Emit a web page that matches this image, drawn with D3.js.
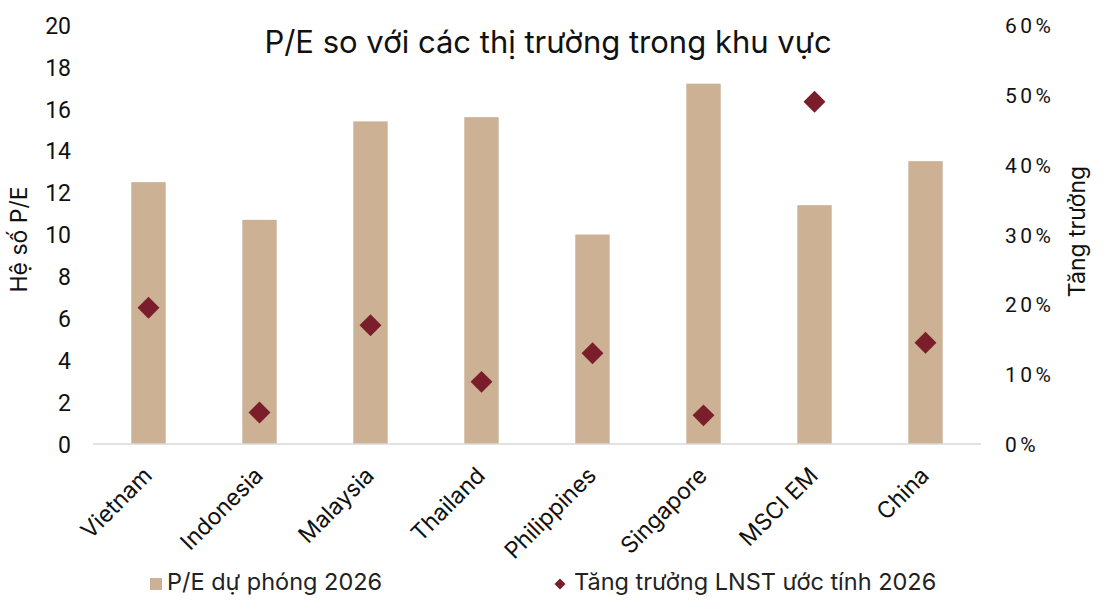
<!DOCTYPE html>
<html lang="vi">
<head>
<meta charset="UTF-8">
<title>P/E so với các thị trường trong khu vực</title>
<script src="https://d3js.org/d3.v7.min.js"></script>
<style>
    body { margin: 0; background: #fff; font-family: Inter, Roboto, "Noto Sans", sans-serif; }
    .title { font-size: 31px; fill: #111; }
    .left-tick text { font-family: Roboto, sans-serif; font-size: 23px; fill: #111; }
    .right-tick text { font-family: Roboto, sans-serif; font-size: 21px; fill: #111; letter-spacing: 3.5px; }
    .cat text { font-family: Inter, sans-serif; font-size: 23px; fill: #111; }
    .axis-title { font-size: 23px; fill: #111; }
    .legend text { font-size: 23.5px; fill: #222; }
</style>
</head>
<body>
<div id="chart"></div>
<script>
// data
const markets = ["Vietnam", "Indonesia", "Malaysia", "Thailand", "Philippines", "Singapore", "MSCI EM", "China"];
const peForward = [12.5, 10.7, 15.4, 15.6, 10.0, 17.2, 11.4, 13.5];
const profitGrowth = [19.5, 4.5, 17.0, 8.9, 13.0, 4.1, 49.0, 14.5];
const peTicks = [0, 2, 4, 6, 8, 10, 12, 14, 16, 18, 20];
const growthTicks = [0, 10, 20, 30, 40, 50, 60];

const width = 1106, height = 600;
const margin = { top: 25, right: 125, bottom: 156, left: 93 };

const barColor = "#cdb195";
const dotColor = "#7a1e2b";

const svg = d3.select("#chart").append("svg")
    .attr("width", width)
    .attr("height", height);

const x = d3.scaleBand()
    .domain(markets)
    .range([margin.left, width - margin.right])
    .paddingInner(0.69)
    .paddingOuter(0.345);

const yLeft = d3.scaleLinear().domain([0, 20]).range([height - margin.bottom, margin.top]);
const yRight = d3.scaleLinear().domain([0, 60]).range([height - margin.bottom, margin.top]);

// bars
svg.append("g").selectAll("rect")
    .data(markets)
    .join("rect")
    .attr("x", d => x(d))
    .attr("width", x.bandwidth())
    .attr("y", (d, i) => yLeft(peForward[i]))
    .attr("height", (d, i) => yLeft(0) - yLeft(peForward[i]))
    .attr("fill", barColor);

// baseline
svg.append("line")
    .attr("x1", margin.left).attr("x2", width - margin.right)
    .attr("y1", yLeft(0)).attr("y2", yLeft(0))
    .attr("stroke", "#d9d9d9").attr("stroke-width", 1.5);

// diamonds
const diamond = d3.symbol().type(d3.symbolSquare).size(240);
svg.append("g").selectAll("path")
    .data(markets)
    .join("path")
    .attr("d", diamond)
    .attr("transform", (d, i) => `translate(${x(d) + x.bandwidth() / 2},${yRight(profitGrowth[i])}) rotate(45)`)
    .attr("fill", dotColor);

// left axis
const leftAxis = svg.append("g")
    .attr("class", "left-tick")
    .attr("transform", `translate(${margin.left - 22},0)`)
    .call(d3.axisLeft(yLeft).tickValues(peTicks).tickSize(0).tickPadding(0));
leftAxis.select(".domain").remove();
leftAxis.selectAll("text").attr("dy", "0.36em");

// right axis
const rightAxis = svg.append("g")
    .attr("class", "right-tick")
    .attr("transform", `translate(${width - margin.right + 24},0)`)
    .call(d3.axisRight(yRight).tickValues(growthTicks).tickSize(0).tickPadding(0)
        .tickFormat(d => d + "%"));
rightAxis.select(".domain").remove();
rightAxis.selectAll("text").attr("dy", "0.36em");

// category labels
const catAxis = svg.append("g")
    .attr("class", "cat")
    .attr("transform", `translate(0,${yLeft(0)})`)
    .call(d3.axisBottom(x).tickSize(0).tickPadding(0));
catAxis.select(".domain").remove();
catAxis.selectAll("text")
    .attr("text-anchor", "end")
    .attr("dy", null)
    .attr("y", 0)
    .attr("transform", "translate(5,33) rotate(-45)");

// title
svg.append("text")
    .attr("class", "title")
    .attr("x", 548).attr("y", 53)
    .attr("text-anchor", "middle")
    .text("P/E so với các thị trường trong khu vực");

// axis titles
svg.append("text")
    .attr("class", "axis-title")
    .attr("transform", `translate(27,${(yLeft(0) + yLeft(20)) / 2 + 5}) rotate(-90)`)
    .attr("text-anchor", "middle")
    .text("Hệ số P/E");

svg.append("text")
    .attr("class", "axis-title")
    .attr("transform", `translate(1085,${(yRight(0) + yRight(60)) / 2 - 3}) rotate(-90)`)
    .attr("text-anchor", "middle")
    .text("Tăng trưởng");

// legend
const legend = svg.append("g").attr("class", "legend");
legend.append("rect")
    .attr("x", 150).attr("y", 578).attr("width", 12).attr("height", 12)
    .attr("fill", barColor);
legend.append("text")
    .attr("x", 167).attr("y", 590)
    .text("P/E dự phóng 2026");
legend.append("path")
    .attr("d", d3.symbol().type(d3.symbolSquare).size(60))
    .attr("transform", "translate(560,584) rotate(45)")
    .attr("fill", dotColor);
legend.append("text")
    .attr("x", 574).attr("y", 590)
    .text("Tăng trưởng LNST ước tính 2026");
</script>
</body>
</html>
